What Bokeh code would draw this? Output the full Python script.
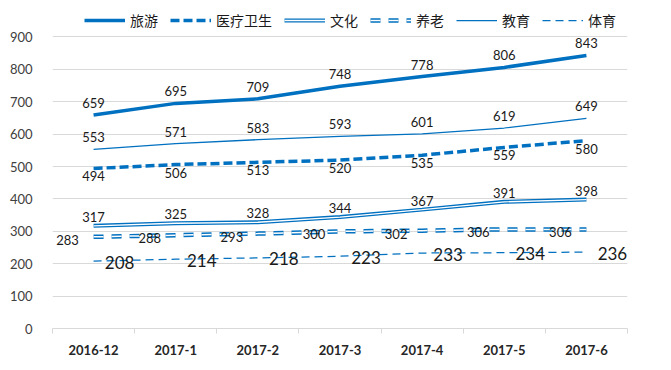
from bokeh.plotting import figure
from bokeh.models import Range1d, FixedTicker, Legend, LegendItem
from bokeh.embed import file_html
from bokeh.resources import INLINE
from bokeh.core.properties import value

categories = ["2016-12", "2017-1", "2017-2", "2017-3", "2017-4", "2017-5", "2017-6"]
tourism = [659, 695, 709, 748, 778, 806, 843]
medical = [494, 506, 513, 520, 535, 559, 580]
culture = [317, 325, 328, 344, 367, 391, 398]
elderly = [283, 288, 293, 300, 302, 306, 306]
education = [553, 571, 583, 593, 601, 619, 649]
sports = [208, 214, 218, 223, 233, 234, 236]
y_ticks = [0, 100, 200, 300, 400, 500, 600, 700, 800, 900]
names = ["旅游", "医疗卫生", "文化", "养老", "教育", "体育"]

BLUE = "#0070C0"
NUM_FONT = "Lato"
CJK = "Noto Sans CJK SC"

n = len(categories)
xs = [i + 0.5 for i in range(n)]

# extra headroom above the top tick to host the legend inside the frame
y_top = y_ticks[-1] * 1.108

p = figure(width=671, height=370, output_backend="svg", toolbar_location=None,
           x_range=Range1d(0, n), y_range=Range1d(0, y_top),
           min_border_left=52, min_border_right=44, min_border_top=5, min_border_bottom=42)
p.outline_line_color = None
p.background_fill_color = "white"

# axes
p.yaxis.ticker = FixedTicker(ticks=y_ticks)
p.yaxis.axis_line_color = None
p.yaxis.major_tick_line_color = None
p.yaxis.minor_tick_line_color = None
p.yaxis.major_label_text_font = NUM_FONT
p.yaxis.major_label_text_font_size = "13px"
p.yaxis.major_label_text_color = "#404040"
p.yaxis.major_label_standoff = 14

p.xaxis.ticker = FixedTicker(ticks=xs, minor_ticks=list(range(n + 1)))
p.xaxis.major_label_overrides = {x: c for x, c in zip(xs, categories)}
p.xaxis.axis_line_color = "#D9D9D9"
p.xaxis.major_tick_line_color = None
p.xaxis.minor_tick_line_color = "#D9D9D9"
p.xaxis.minor_tick_out = 5
p.xaxis.minor_tick_in = 0
p.xaxis.major_label_text_font = NUM_FONT
p.xaxis.major_label_text_font_size = "13px"
p.xaxis.major_label_text_font_style = "bold"
p.xaxis.major_label_text_color = "#262626"
p.xaxis.major_label_standoff = 10

p.xgrid.grid_line_color = None
p.ygrid.ticker = FixedTicker(ticks=y_ticks)
p.ygrid.grid_line_color = "#D9D9D9"

# lines
r_t = p.line(xs, tourism, line_color=BLUE, line_width=3.5)
r_m = p.line(xs, medical, line_color=BLUE, line_width=3.5, line_dash="9 4")
r_c1 = p.line(xs, culture, line_color=BLUE, line_width=4)
r_c2 = p.line(xs, culture, line_color="white", line_width=1.3)
r_e1 = p.line(xs, elderly, line_color=BLUE, line_width=4.5, line_dash="10 8")
r_e2 = p.line(xs, elderly, line_color="white", line_width=1.5, line_dash="10 8")
r_ed = p.line(xs, education, line_color=BLUE, line_width=1.25)
r_s = p.line(xs, sports, line_color=BLUE, line_width=1.25, line_dash="8 5")

def labels(vals, dx, dy, size="13px"):
    p.text(xs, vals, text=[str(v) for v in vals], x_offset=dx, y_offset=dy,
           text_align="center", text_baseline="middle",
           text_font=value(NUM_FONT), text_font_size=size, text_color="#1a1a1a")

labels(tourism, 0, -12)
labels(education, 0, -12)
labels(medical, 0, 8)
labels(culture, 0, -9)
labels(elderly, -26, 3)
labels(sports, 26, 1, "17px")

items = [
    LegendItem(label=names[0], renderers=[r_t]),
    LegendItem(label=names[1], renderers=[r_m]),
    LegendItem(label=names[2], renderers=[r_c1, r_c2]),
    LegendItem(label=names[3], renderers=[r_e1, r_e2]),
    LegendItem(label=names[4], renderers=[r_ed]),
    LegendItem(label=names[5], renderers=[r_s]),
]
leg = Legend(items=items, orientation="horizontal", location="top_left",
             glyph_width=41, glyph_height=14, label_standoff=5, spacing=12,
             padding=0, margin=3, border_line_alpha=0, background_fill_alpha=0,
             label_text_font=CJK, label_text_font_size="14px", label_text_color="#1a1a1a")
leg.location = (32, 298)
p.add_layout(leg, "center")

open("out.html", "w").write(file_html(p, INLINE))
